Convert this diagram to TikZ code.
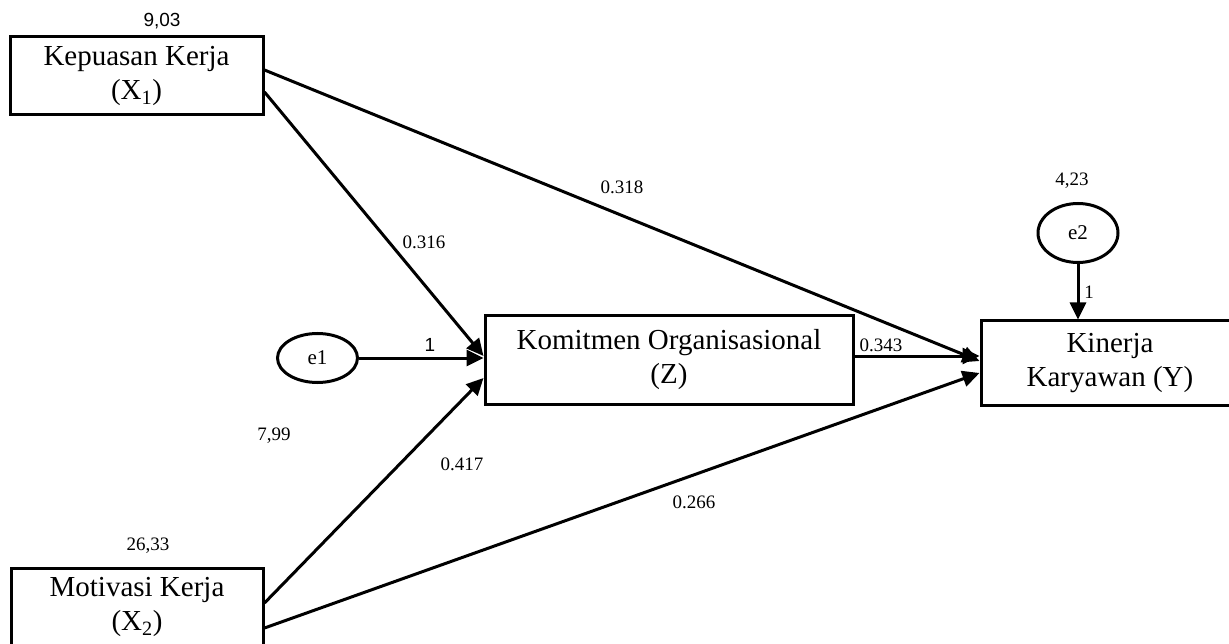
\documentclass[tikz,border=0pt]{standalone}
\usepackage{fontspec}
\setmainfont{Liberation Serif}
\newfontfamily\arialfont{Liberation Sans}
\usetikzlibrary{arrows.meta,positioning,shapes.geometric}

\tikzset{
  var/.style={draw, rectangle, line width=3pt, inner sep=0pt, align=center,
    font=\fontsize{29}{34}\selectfont},
  err/.style={draw, ellipse, line width=3pt, inner sep=0pt,
    minimum width=80pt, font=\fontsize{21}{24}\selectfont},
  num/.style={inner sep=0pt, font=\fontsize{19}{22}\selectfont},
  numsf/.style={inner sep=0pt, font=\arialfont\fontsize{19}{22}\selectfont},
  link/.style={-{Triangle[length=17pt,width=16pt]}, line width=3pt}
}

\begin{document}
\begin{tikzpicture}[x=1pt,y=-1pt]
        \useasboundingbox (0,0) rectangle (1229,644);
        \node[var, minimum width=253pt, minimum height=78pt] (x_1) at (136.5,76) {Kepuasan Kerja\\(X\textsubscript{1})};
        \node[var, minimum width=252pt, minimum height=78pt] (x_2) at (137,607) {Motivasi Kerja\\(X\textsubscript{2})};
        \node[var, minimum width=368pt, minimum height=88pt] (z) at (669,360) {Komitmen Organisasional\\(Z)};
        \node[var, minimum width=258pt, minimum height=84pt] (y) at (1110,363) {Kinerja\\Karyawan (Y)};
        \node[err, minimum height=49pt] (e_1) at (317.5,358) {e1};
        \node[err, minimum height=59pt] (e_2) at (1078,233) {e2};
        \node[numsf] (v_x1) at (162,21) {9,03};
        \node[num] (v_x2) at (148,546) {26,33};
        \node[num] (v_e1) at (274,436) {7,99};
        \node[num] (v_e2) at (1072,181) {4,23};
        \node[num] (b_x1y) at (622,187) {0.318};
        \node[num] (b_x1z) at (424,242) {0.316};
        \node[numsf] (w_e1) at (430,345) {1};
        \node[num] (b_zy) at (881,345) {0.343};
        \node[num] (b_x2z) at (462,464) {0.417};
        \node[num] (b_x2y) at (694,502) {0.266};
        \node[num] (w_e2) at (1089,292) {1};
        \path[link] ([yshift=6pt]x_1.east) edge ([yshift=2pt]y.west);
        \path[link] ([yshift=-16pt]x_1.east) edge ([yshift=4pt]z.west);
        \path[link] (e_1.east) edge (e_1.east -| z.west);
        \path[link] ([yshift=4pt]x_2.east) edge ([yshift=-18pt]z.west);
        \path[link] ([yshift=-21pt]x_2.east) edge ([yshift=-10pt]y.west);
        \path[link] ([yshift=4pt]z.east) edge ([yshift=4pt]z.east -| y.west);
        \path[link] (e_2.south) edge (e_2.south |- y.north);
      \end{tikzpicture}
\end{document}
